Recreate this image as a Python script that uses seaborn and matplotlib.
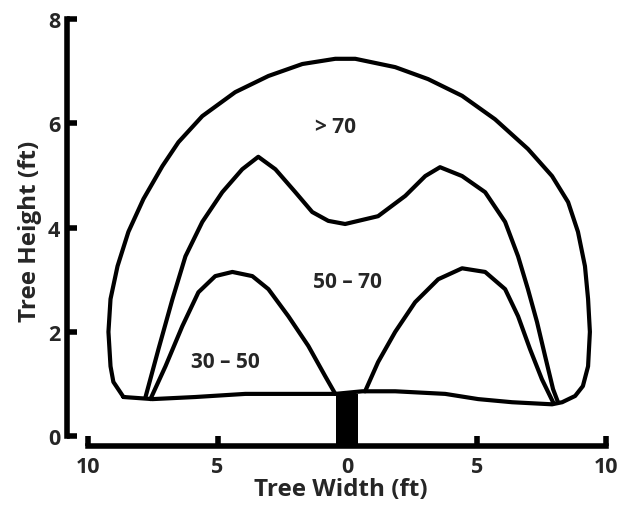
import matplotlib
matplotlib.use("Agg")
import matplotlib.pyplot as plt
import pandas as pd
import seaborn as sns

# Outline of the whole canopy (> 70 zone), bottom-left corner clockwise, then back along the base
outer_x = [-8.63, -9.02, -9.13, -9.21, -9.13, -8.86, -8.44, -7.86, -7.13, -6.51, -5.59,
           -4.32, -3.04, -1.73, -0.46, 0.31, 1.85, 3.12, 4.43, 5.70, 6.97, 7.90,
           8.52, 8.90, 9.17, 9.29, 9.36, 9.29, 9.09, 8.79, 8.29,
           7.90, 6.36, 5.05, 3.78, 1.85, 0.58, -0.46, -2.00, -3.93, -5.86, -7.51, -8.63]
outer_y = [0.75, 1.04, 1.34, 2.00, 2.63, 3.26, 3.92, 4.55, 5.18, 5.64, 6.14,
           6.60, 6.91, 7.14, 7.24, 7.24, 7.08, 6.85, 6.53, 6.08, 5.51, 4.99,
           4.49, 3.92, 3.26, 2.63, 2.00, 1.34, 0.96, 0.77, 0.65,
           0.61, 0.65, 0.71, 0.81, 0.86, 0.86, 0.81, 0.81, 0.81, 0.75, 0.71, 0.75]

# 50 - 70 boundary
mid_x = [-7.78, -7.28, -6.74, -6.24, -5.59, -4.82, -4.05, -3.43, -2.77, -2.00, -1.35,
         -0.73, -0.08, 1.19, 2.24, 3.01, 3.58, 4.43, 5.32, 6.09, 6.59, 6.97, 7.32,
         7.63, 7.94, 8.13]
mid_y = [0.75, 1.67, 2.63, 3.45, 4.11, 4.68, 5.12, 5.36, 5.12, 4.68, 4.30,
         4.13, 4.07, 4.22, 4.61, 4.99, 5.16, 4.99, 4.68, 4.11, 3.45, 2.82, 2.19,
         1.54, 0.90, 0.65]

# 30 - 50 boundaries, one lobe each side of the trunk
inner_left_x = [-7.59, -7.01, -6.36, -5.74, -5.09, -4.43, -3.66, -3.04, -2.27, -1.50,
                -0.85, -0.46]
inner_left_y = [0.71, 1.34, 2.11, 2.76, 3.07, 3.15, 3.07, 2.82, 2.30, 1.73, 1.15, 0.81]
inner_right_x = [0.69, 1.19, 1.85, 2.62, 3.51, 4.43, 5.32, 6.09, 6.59, 7.05, 7.51, 7.94]
inner_right_y = [0.86, 1.42, 2.00, 2.57, 3.01, 3.22, 3.15, 2.82, 2.30, 1.67, 1.09, 0.65]

trunk_x = [-0.42, 0.42]
trunk_top = 0.80

zone_labels = ["> 70", "50 \u2013 70", "30 \u2013 50"]
zone_x = [-0.46, 0.0, -4.7]
zone_y = [5.95, 2.96, 1.44]

sns.set_style("white")
plt.rcParams["font.family"] = ["Open Sans", "DejaVu Sans"]
plt.rcParams["font.weight"] = "bold"

fig = plt.figure(figsize=(6.2, 5.06), dpi=100)
ax = fig.add_axes([0.108, 0.1166, 0.884, 0.8538])

curves = [(outer_x, outer_y), (mid_x, mid_y),
          (inner_left_x, inner_left_y), (inner_right_x, inner_right_y)]
for cx, cy in curves:
    df = pd.DataFrame({"x": cx, "y": cy})
    sns.lineplot(data=df, x="x", y="y", sort=False, estimator=None, ax=ax,
                 color="black", linewidth=3, solid_joinstyle="round",
                 solid_capstyle="round")

ylo = -0.19
ax.fill_between(trunk_x, [ylo, ylo], [trunk_top, trunk_top], color="black", lw=0)

for lab, lx, ly in zip(zone_labels, zone_x, zone_y):
    ax.text(lx, ly, lab, ha="center", va="center", fontsize=15, fontweight="bold")

ax.set_xlim(-10.81, 10.33)
ax.set_ylim(ylo, 8.1)
ax.set_xticks([-10, -5, 0, 5, 10])
ax.set_xticklabels(["10", "5", "0", "5", "10"])
ax.set_yticks([0, 2, 4, 6, 8])
ax.set_yticklabels(["0", "2", "4", "6", "8"])

for side in ["top", "right"]:
    ax.spines[side].set_visible(False)
ax.spines["left"].set_bounds(0, 8)
ax.spines["bottom"].set_bounds(-10, 10)
for side in ["left", "bottom"]:
    ax.spines[side].set_linewidth(4)
    ax.spines[side].set_color("black")
    ax.spines[side].set_capstyle("projecting")

ax.tick_params(axis="both", direction="in", length=7, width=4, color="black",
               labelsize=15.5, pad=5, bottom=True, left=True)
ax.tick_params(axis="x", pad=7)
for t in ax.get_xticklabels() + ax.get_yticklabels():
    t.set_fontweight("bold")

ax.set_xlabel("Tree Width (ft)", fontsize=17.5, fontweight="bold", labelpad=0)
ax.set_ylabel("Tree Height (ft)", fontsize=17.5, fontweight="bold", labelpad=4)

fig.savefig("out.png", dpi=100)
